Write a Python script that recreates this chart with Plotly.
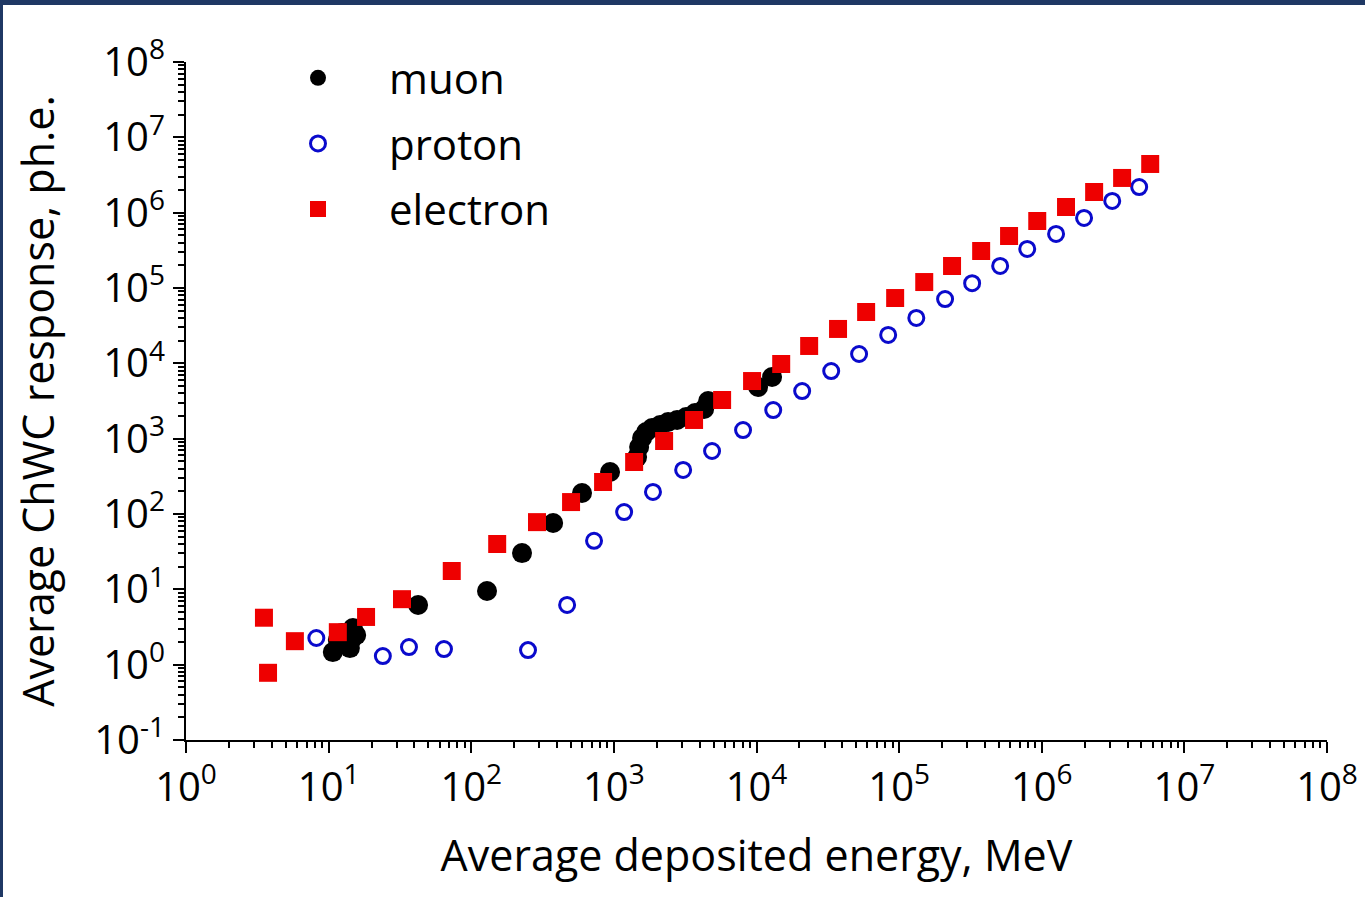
import plotly.graph_objects as go

# ---------------- data ----------------
muon_x = [10.7, 11.6, 12.4, 13.5, 14.4, 14.8, 15.6, 14.1, 42.4, 129, 227, 375, 598, 940,
          1455, 1503, 1577, 1683, 1853, 2110, 2400, 2775, 3210, 3710, 4295, 4580, 10260, 12860]
muon_y = [1.47, 2.12, 2.63, 1.82, 2.12, 3.06, 2.47, 1.66, 6.19, 9.5, 30.3, 75.9, 190, 361,
          570, 775, 1020, 1225, 1385, 1518, 1663, 1770, 1938, 2190, 2478, 3162, 4850, 6580]

proton_x = [8.2, 24, 36.6, 64.4, 250, 470, 726, 1180, 1880, 3060, 4880, 8050, 13100, 20900,
            33400, 52400, 83800, 132000, 210000, 325000, 511000, 791000, 1.26e6, 1.98e6,
            3.12e6, 4.82e6]
proton_y = [2.26, 1.30, 1.71, 1.61, 1.56, 6.2, 44, 106, 196, 384, 686, 1300, 2400, 4290,
            7900, 13300, 23800, 40000, 71400, 116000, 196000, 330000, 522000, 850000,
            1.43e6, 2.19e6]

electron_x = [3.52, 3.76, 5.8, 11.6, 18.3, 32.7, 73, 152, 289, 501, 840, 1387, 2250, 3650,
              5740, 9310, 14900, 23400, 37300, 58700, 93800, 150000, 235000, 376000, 590000,
              930000, 1.48e6, 2.33e6, 3.66e6, 5.76e6]
electron_y = [4.2, 0.78, 2.05, 2.7, 4.3, 7.4, 17.5, 40, 78, 144, 266, 490, 931, 1771, 3260,
              5820, 9800, 17000, 28600, 48000, 73600, 120000, 196000, 310000, 490000, 775000,
              1.19e6, 1.88e6, 2.89e6, 4.43e6]

series_names = ["muon", "proton", "electron"]
x_exponents = [0, 1, 2, 3, 4, 5, 6, 7, 8]
y_exponents = [-1, 0, 1, 2, 3, 4, 5, 6, 7, 8]

x_title = "Average deposited energy, MeV"
y_title = "Average ChWC response, ph.e."

# ---------------- layout constants ----------------
W, H = 1365, 897
L, R, T, B = 186, 38, 62, 157
FONT = "Open Sans"
NAVY = "#1f3864"


def pow_label(e):
    return "10<sup>%d</sup>" % e


def px_to_paper_x(px):
    return (px - L) / (W - L - R)


def px_to_paper_y(py):
    return 1 - (py - T) / (H - T - B)


fig = go.Figure()

fig.add_trace(go.Scatter(
    x=muon_x, y=muon_y, mode="markers", name=series_names[0], legendgroup="g1",
    marker=dict(symbol="circle", size=20, color="black", line=dict(width=0)),
))
fig.add_trace(go.Scatter(
    x=proton_x, y=proton_y, mode="markers", name=series_names[1], legendgroup="g2",
    marker=dict(symbol="circle-open", size=15, color="#0a0acc", line=dict(width=3, color="#0a0acc")),
))
fig.add_trace(go.Scatter(
    x=electron_x, y=electron_y, mode="markers", name=series_names[2], legendgroup="g3",
    marker=dict(symbol="square", size=18, color="#ee0000", line=dict(width=0)),
))

axis_common = dict(
    type="log",
    showgrid=False,
    zeroline=False,
    showline=True,
    linecolor="black",
    linewidth=2,
    ticks="outside",
    ticklen=11,
    tickwidth=2,
    tickcolor="black",
    tickfont=dict(family=FONT, size=40, color="black"),
    minor=dict(ticks="outside", ticklen=6, tickwidth=1.5, tickcolor="black", dtick="D1"),
    automargin=False,
    mirror=False,
)

fig.update_xaxes(
    **axis_common,
    range=[0, 8],
    tickmode="array",
    tickvals=[10.0 ** e for e in x_exponents],
    ticktext=[pow_label(e) for e in x_exponents],
    title=dict(text=x_title, font=dict(family=FONT, size=43, color="black"), standoff=29),
)
fig.update_yaxes(
    **axis_common,
    range=[-1, 8],
    tickmode="array",
    tickvals=[10.0 ** e for e in y_exponents],
    ticktext=[pow_label(e) for e in y_exponents],
    ticklabelstandoff=0,
    title=dict(text=y_title, font=dict(family=FONT, size=43, color="black"), standoff=26),
)

fig.update_layout(
    width=W, height=H,
    margin=dict(l=L, r=R, t=T, b=B, pad=0),
    paper_bgcolor="white",
    plot_bgcolor="white",
    font=dict(family=FONT, color="black"),
    showlegend=True,
    legend=dict(
        x=px_to_paper_x(247), y=px_to_paper_y(44),
        xanchor="left", yanchor="top",
        font=dict(family=FONT, size=42, color="black"),
        bgcolor="rgba(0,0,0,0)",
        itemwidth=132,
        tracegroupgap=8,
        traceorder="grouped",
        itemsizing="trace",
    ),
    shapes=[
        dict(type="rect", xref="paper", yref="paper", layer="above",
             x0=px_to_paper_x(0), x1=px_to_paper_x(W), y0=px_to_paper_y(0), y1=px_to_paper_y(5),
             fillcolor=NAVY, line=dict(width=0)),
        dict(type="rect", xref="paper", yref="paper", layer="above",
             x0=px_to_paper_x(0), x1=px_to_paper_x(3), y0=px_to_paper_y(0), y1=px_to_paper_y(H),
             fillcolor=NAVY, line=dict(width=0)),
    ],
)

fig.write_html("out.html")
